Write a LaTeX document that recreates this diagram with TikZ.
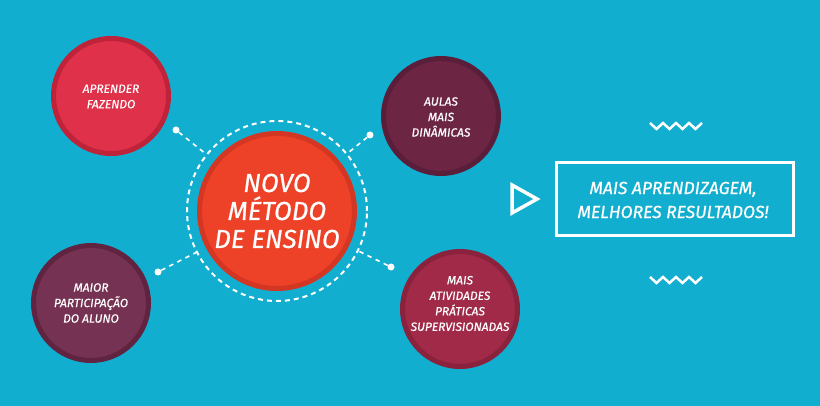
\documentclass[tikz,border=0pt]{standalone}
\usepackage{fontspec}
\setmainfont{Fira Sans}
\newfontfamily\medfam{Fira Sans}[FakeBold=0.6]
\newcommand{\medit}{\medfam\itshape}
\begin{document}
\begin{tikzpicture}[x=1pt,y=-1pt,
  bubble/.style={circle,inner sep=0pt,minimum size=115pt,line width=5pt},
  lbl/.style={text=white,font=\fontsize{12}{15.5}\selectfont\medit,align=center,inner sep=0pt},
  link/.style={white,line width=1.6pt,dash pattern=on 4.5pt off 4.5pt},
  dotn/.style={circle,fill=white,inner sep=0pt,minimum size=7pt},
  zig/.style={white,line width=2.5pt,line join=miter}]
\definecolor{bg}{RGB}{18,174,208}
\definecolor{cfill}{RGB}{238,66,40}
\definecolor{cdraw}{RGB}{212,54,36}
\definecolor{afill}{RGB}{224,49,74}
\definecolor{adraw}{RGB}{190,35,58}
\definecolor{bfill}{RGB}{108,38,68}
\definecolor{bdraw}{RGB}{90,30,58}
\definecolor{mfill}{RGB}{118,50,82}
\definecolor{mdraw}{RGB}{96,36,64}
\definecolor{pfill}{RGB}{160,42,72}
\definecolor{pdraw}{RGB}{138,34,62}
\fill[bg] (0,0) rectangle (820,406);
\useasboundingbox (0,0) rectangle (820,406);
% ring and center
\node[circle,draw=white,line width=2pt,dash pattern=on 5pt off 4pt,inner sep=0pt,minimum size=180pt] (ring) at (277,211) {};
\node[circle,fill=cfill,draw=cdraw,line width=5pt,inner sep=0pt,minimum size=155pt] (core) at (277,211) {};
\node[text=white,font=\fontsize{26}{28}\selectfont\medit,align=center,inner sep=0pt] (coretxt) at (277,211) {NOVO\\MÉTODO\\DE ENSINO};
% satellites
\node[bubble,fill=afill,draw=adraw] (c1) at (111,96) {};
\node[lbl] (t1) at (111,96.5) {APRENDER\\FAZENDO};
\node[bubble,fill=bfill,draw=bdraw] (c2) at (441,116) {};
\node[lbl] (t2) at (441,117) {AULAS\\MAIS\\DINÂMICAS};
\node[bubble,fill=mfill,draw=mdraw] (c3) at (91,303) {};
\node[lbl] (t3) at (91,303) {MAIOR\\PARTICIPAÇÃO\\DO ALUNO};
\node[bubble,fill=pfill,draw=pdraw] (c4) at (460,309) {};
\node[lbl] (t4) at (460,303.5) {MAIS\\ATIVIDADES\\PRÁTICAS\\SUPERVISIONADAS};
% connectors
\node[dotn] (d1) at (176,130) {};
\node[dotn] (d2) at (370,135) {};
\node[dotn] (d3) at (158,272) {};
\node[dotn] (d4) at (391,267) {};
\draw[link] (d1) -- (ring);
\draw[link] (d2) -- (ring);
\draw[link] (d3) -- (ring);
\draw[link] (d4) -- (ring);
% arrow triangle
\draw[white,line width=3.5pt,line join=miter] (512,185) -- (537,199) -- (512,213) -- cycle;
% result box
\node[draw=white,line width=3pt,minimum width=237pt,minimum height=73pt,inner sep=0pt] (res) at (674.5,199.5) {};
\node[text=white,font=\fontsize{17.5}{24}\selectfont\medit,align=center,inner sep=0pt] (restxt) at (673,200) {MAIS APRENDIZAGEM,\\MELHORES RESULTADOS!};
% zigzags
\draw[zig] (650,123) -- (656.5,129) -- (663,123) -- (669.5,129) -- (676,123) -- (682.5,129) -- (689,123) -- (695.5,129) -- (702,123);
\draw[zig] (650,277) -- (656.5,283) -- (663,277) -- (669.5,283) -- (676,277) -- (682.5,283) -- (689,277) -- (695.5,283) -- (702,277);
\end{tikzpicture}
\end{document}
